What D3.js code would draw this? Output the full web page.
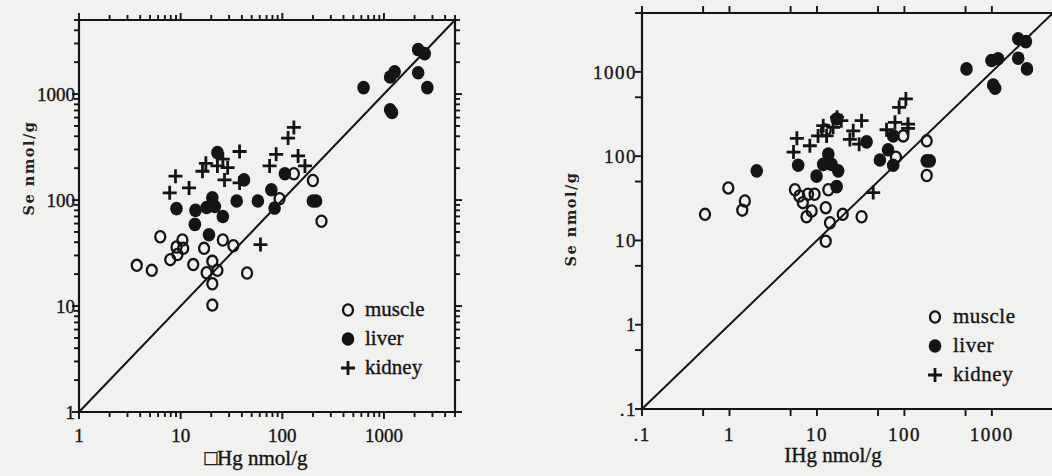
<!DOCTYPE html>
<html><head><meta charset="utf-8">
<script src="https://cdn.jsdelivr.net/npm/d3@7"></script>
<style>body{margin:0;background:#f1f1ef}svg{display:block}</style>
</head><body><svg id="c" width="1052" height="476"></svg>
<script>
// ---- Left panel data (ΣHg vs Se, nmol/g) ----
const leftMuscle = [[94,103],[200,153],[243,63],[130,177],[6.3,45],[10.4,42],[9.1,36],[10.6,35],[9.3,30.6],[7.9,27.4],[3.7,24.2],[5.2,21.7],[13.3,24.6],[17,35],[20.5,26.4],[18,20.6],[23,21.7],[20.5,16.2],[20.5,10.2],[26,42],[33,37],[45,20.5]];
const leftLiver = [[630,1150],[1150,1450],[1275,1620],[2170,2630],[2520,2410],[2170,1590],[2670,1150],[1150,710],[1200,670],[23,280],[42,155],[106,177],[78,125],[20.5,105],[9.1,83],[14,80],[18,85],[21.7,87],[26,70],[13.8,59],[19,47],[35.6,98],[57.5,98],[84,84],[200,98],[215,98]];
const leftKidney = [[130,485],[114,384],[38,287],[87,270],[143,261],[26,243],[17.7,222],[16.4,187],[29,202],[23,210],[75,210],[167,210],[8.9,168],[27,155],[38,145],[12.1,130],[7.8,117],[61,38]];
// ---- Right panel data (IHg vs Se, nmol/g) ----
const rightMuscle = [[97,174],[180,152],[180,59],[80,97],[12.6,204],[13.5,40],[0.97,42],[5.6,40],[1.5,29.4],[1.4,22.9],[0.525,20.4],[6.3,33.7],[7.9,35.3],[9.4,35.3],[6.9,28.1],[8.7,22.4],[7.6,19.1],[12.6,24.5],[14.1,16.2],[12.6,9.8],[19.7,20.4],[32.4,19.1]];
const rightLiver = [[513,1085],[990,1365],[1180,1430],[2000,2470],[2450,2290],[2000,1455],[2520,1085],[1035,700],[1090,640],[2.05,67],[6.1,78],[16.8,276],[13.5,106],[11.8,80],[14.7,80],[9.9,58],[17.5,67],[16.8,43.5],[37,148],[52.5,90],[65,119],[74.5,174],[74.5,78],[180,88],[195,88]];
const rightKidney = [[104,478],[87,380],[78,252],[110,240],[110,214],[62.5,206],[32.4,264],[26,200],[23.8,158],[30.4,139],[19,264],[15.3,220],[11.8,230],[10.3,174],[12.9,174],[5.9,163],[8.3,133],[5.4,112],[44,37],[17,290]];
// ---- Tick labels ----
const leftTicks = [1,10,100,1000];
const leftTickLabels = ["1","10","100","1000"];
const rightTicks = [0.1,1,10,100,1000];
const rightTickLabels = [".1","1","10","100","1000"];
const legendNames = ["muscle","liver","kidney"];

const svg = d3.select("#c");
const ink = "#141414";

function drawPanel(cfg){
  const x = d3.scaleLog().domain(cfg.domain).range(cfg.xr);
  const y = d3.scaleLog().domain(cfg.domain).range(cfg.yr);
  const g = svg.append("g");
  const [x0,x1] = cfg.xr, [y0,y1] = cfg.yr;
  const decs = d3.range(Math.floor(Math.log10(cfg.domain[0])), Math.ceil(Math.log10(cfg.domain[1])));
  const minor = [];
  decs.forEach(e => cfg.mult.forEach(m => { const v = m*Math.pow(10,e); if (v>=cfg.domain[0]*0.999 && v<=cfg.domain[1]*1.001) minor.push(v); }));
  const isMajor = v => Math.abs(Math.log10(v) - Math.round(Math.log10(v))) < 1e-6;
  const tl = v => isMajor(v) ? cfg.major : cfg.minorLen;
  g.append("line").attr("x1",x0).attr("x2",x1).attr("y1",y0).attr("y2",y0).attr("stroke",ink).attr("stroke-width",2.2);
  g.append("line").attr("x1",x0).attr("x2",x1).attr("y1",y1).attr("y2",y1).attr("stroke",ink).attr("stroke-width",2.2);
  g.append("line").attr("x1",x0).attr("x2",x0).attr("y1",y0).attr("y2",y1).attr("stroke",ink).attr("stroke-width",2.2);
  if (cfg.rightAxis) g.append("line").attr("x1",x1).attr("x2",x1).attr("y1",y0).attr("y2",y1).attr("stroke",ink).attr("stroke-width",2.2);
  minor.forEach(v => {
    const px = x(v), py = y(v);
    g.append("line").attr("x1",px).attr("x2",px).attr("y1",y0).attr("y2",y0+tl(v)).attr("stroke",ink).attr("stroke-width",1.9);
    g.append("line").attr("x1",px).attr("x2",px).attr("y1",y1).attr("y2",y1-tl(v)).attr("stroke",ink).attr("stroke-width",1.9);
    g.append("line").attr("x1",x0).attr("x2",x0-tl(v)).attr("y1",py).attr("y2",py).attr("stroke",ink).attr("stroke-width",1.9);
    if (cfg.rightAxis) g.append("line").attr("x1",x1).attr("x2",x1+tl(v)).attr("y1",py).attr("y2",py).attr("stroke",ink).attr("stroke-width",1.9);
  });
  const txt = sel => sel.attr("fill",ink).attr("stroke",ink).attr("stroke-width",0.35);
  cfg.ticks.forEach((v,i) => {
    txt(g.append("text").attr("x",x(v)).attr("y",cfg.xLabY).attr("text-anchor","middle")
      .attr("font-family",cfg.font).attr("font-size",cfg.fs).attr("letter-spacing",cfg.ls)).text(cfg.labels[i]);
    txt(g.append("text").attr("x",x0-cfg.yLabGap).attr("y",y(v)+cfg.fs*0.35).attr("text-anchor","end")
      .attr("font-family",cfg.font).attr("font-size",cfg.fs).attr("letter-spacing",cfg.ls)).text(cfg.labels[i]);
  });
  g.append("line").attr("x1",x(cfg.domain[0])).attr("y1",y(cfg.domain[0])).attr("x2",x(cfg.domain[1])).attr("y2",y(cfg.domain[1]))
    .attr("stroke",ink).attr("stroke-width",2);
  txt(g.append("text").attr("x",cfg.xTitle[0]).attr("y",cfg.xTitle[1]).attr("text-anchor","middle")
    .attr("font-family",cfg.font).attr("font-size",cfg.tfs)).text(cfg.xTitleText);
  g.append("text").attr("transform",`translate(${cfg.yTitle[0]},${cfg.yTitle[1]}) rotate(-90)`).attr("text-anchor","middle")
    .attr("font-family","DejaVu Serif").attr("font-weight","bold").attr("font-size",14.5).attr("letter-spacing",1.5)
    .attr("fill","#222").text("Se nmol/g");
  const drawMuscle = (sel, pts, xs, ys) => sel.selectAll(null).data(pts).enter().append("ellipse")
    .attr("cx",d=>xs(d[0])).attr("cy",d=>ys(d[1])).attr("rx",5).attr("ry",5.6)
    .attr("fill","none").attr("stroke",ink).attr("stroke-width",2.3);
  const drawLiver = (sel, pts, xs, ys) => sel.selectAll(null).data(pts).enter().append("ellipse")
    .attr("cx",d=>xs(d[0])).attr("cy",d=>ys(d[1])).attr("rx",6.3).attr("ry",6.8).attr("fill",ink);
  const drawKidney = (sel, pts, xs, ys) => sel.selectAll(null).data(pts).enter().append("path")
      .attr("d",d=>{const a=xs(d[0]), b=ys(d[1]); return `M${a-7},${b}H${a+7}M${a},${b-7}V${b+7}`;})
      .attr("stroke",ink).attr("stroke-width",2.8).attr("fill","none");
  drawMuscle(g.append("g"), cfg.muscle, x, y);
  drawLiver(g.append("g"), cfg.liver, x, y);
  drawKidney(g.append("g"), cfg.kidney, x, y);
  const lg = g.append("g");
  const idn = d3.scaleLinear();
  drawMuscle(lg, [[cfg.leg[0], cfg.leg[1]]], idn, idn);
  drawLiver(lg, [[cfg.leg[0], cfg.leg[1]+cfg.leg[2]]], idn, idn);
  drawKidney(lg, [[cfg.leg[0], cfg.leg[1]+2*cfg.leg[2]]], idn, idn);
  legendNames.forEach((n,i) => txt(lg.append("text").attr("x",cfg.leg[0]+cfg.leg[3]).attr("y",cfg.leg[1]+i*cfg.leg[2]+6)
    .attr("font-family",cfg.font).attr("font-size",cfg.tfs).attr("letter-spacing",cfg.legLs)).text(n));
}

drawPanel({domain:[1,5000], xr:[79,455], yr:[412,20], mult:[1,2,3,4,5,6,7,8,9], major:7, minorLen:5,
  rightAxis:true, ticks:leftTicks, labels:leftTickLabels, font:"Liberation Serif", fs:19, ls:0, tfs:21, legLs:0,
  xLabY:442, yLabGap:4, xTitle:[256,465], xTitleText:"\u25A1Hg nmol/g", yTitle:[34,168],
  muscle:leftMuscle, liver:leftLiver, kidney:leftKidney, leg:[348,310,29,17]});

drawPanel({domain:[0.1,5000], xr:[642,1053], yr:[409,13], mult:[1,5], major:7, minorLen:7,
  rightAxis:false, ticks:rightTicks, labels:rightTickLabels, font:"Liberation Serif", fs:19, ls:1.5, tfs:21, legLs:0.5,
  xLabY:441, yLabGap:5, xTitle:[833,462], xTitleText:"IHg nmol/g", yTitle:[576,219],
  muscle:rightMuscle, liver:rightLiver, kidney:rightKidney, leg:[935,317,29,18]});
</script></body></html>
